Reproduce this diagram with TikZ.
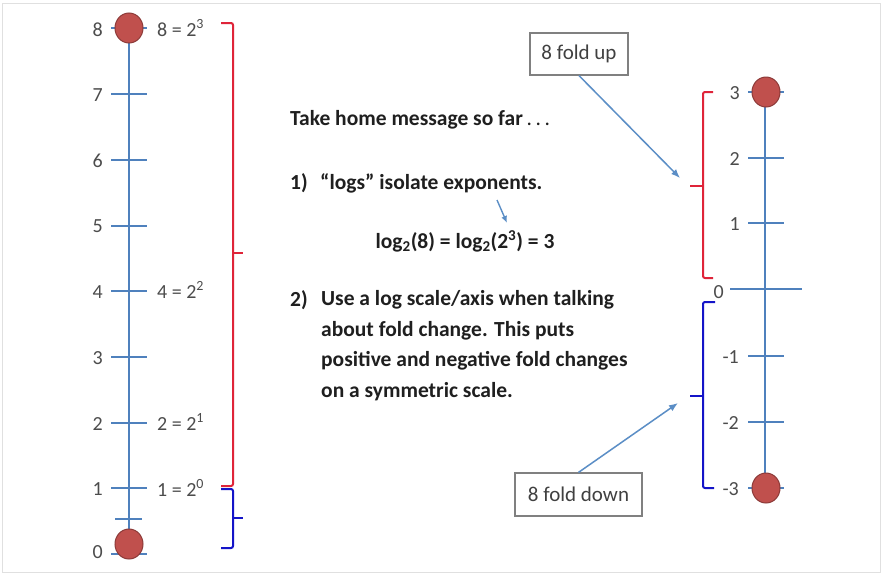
\documentclass[tikz,border=0pt]{standalone}
\usepackage{fontspec}
\setmainfont{Carlito}
\usetikzlibrary{arrows.meta,positioning,shapes.geometric}
\definecolor{axisBlue}{HTML}{4F81BD}
\definecolor{dotRed}{HTML}{C0504D}
\definecolor{dotEdge}{HTML}{8C3A38}
\definecolor{braceRed}{HTML}{DF2439}
\definecolor{braceBlue}{HTML}{1414C8}
\definecolor{pointerBlue}{HTML}{5B8EC6}
\colorlet{labelGray}{black!70}
\colorlet{msgGray}{black!88}
\tikzset{
  >=Latex,
  axisline/.style={draw=axisBlue, line width=1.8pt},
  enddot/.style={
    ellipse,
    fill=dotRed,
    draw=dotEdge,
    line width=1pt,
    minimum width=28pt,
    minimum height=30pt,
    inner sep=0pt
  },
  numlab/.style={
    font=\fontsize{20}{24}\selectfont,
    text=labelGray,
    inner sep=0pt,
    anchor=base east
  },
  powlab/.style={
    font=\fontsize{20}{24}\selectfont,
    text=labelGray,
    inner sep=0pt,
    anchor=base west
  },
  msg/.style={
    font=\fontsize{21.5}{30.5}\selectfont\bfseries,
    text=msgGray,
    inner sep=0pt,
    anchor=base west
  },
  callout/.style={
    draw=black!50,
    fill=white,
    line width=1.2pt,
    inner sep=0pt,
    font=\fontsize{21}{24}\selectfont,
    text=black!75
  },
  brace/.style={line width=2pt, rounded corners=2pt},
  pointer/.style={
    -{Latex[length=9pt,width=7pt]},
    line width=1.5pt,
    draw=pointerBlue
  }
}
\begin{document}
\begin{tikzpicture}[x=1pt,y=-1pt]
\useasboundingbox (0,0) rectangle (883,576);
\fill[white] (0,0) rectangle (883,576);
\draw[black!12, line width=1pt] (2,3) rectangle (880,572);

% linear axis (left)
\draw[axisline] (129,28) -- (129,544);
\draw[axisline] (111,28) -- (147,28) (111,94) -- (147,94)
  (111,160) -- (147,160) (111,226) -- (147,226)
  (111,291) -- (147,291) (111,357) -- (147,357)
  (111,423) -- (147,423) (111,488) -- (147,488)
  (115,519) -- (142,519) (111,554) -- (147,554);
\node[enddot] (linTop) at (129,28) {};
\node[enddot] (linBot) at (129,544) {};

\node[numlab] (l8) at (103,36) {8};
\node[numlab] (l7) at (103,101) {7};
\node[numlab] (l6) at (103,167) {6};
\node[numlab] (l5) at (103,232) {5};
\node[numlab] (l4) at (103,298) {4};
\node[numlab] (l3) at (103,364) {3};
\node[numlab] (l2) at (103,430) {2};
\node[numlab] (l1) at (103,495) {1};
\node[numlab] (l0) at (103,558) {0};

\node[powlab] (p8) at (157,36) {8 = 2\textsuperscript{3}};
\node[powlab] (p4) at (157,298) {4 = 2\textsuperscript{2}};
\node[powlab] (p2) at (157,430) {2 = 2\textsuperscript{1}};
\node[powlab] (p1) at (157,496) {1 = 2\textsuperscript{0}};

\draw[brace, braceRed] (221,23) -- (233,23) -- (233,486) -- (221,486);
\draw[brace, braceRed] (233,253) -- (243,253);
\draw[brace, braceBlue] (221,489) -- (233,489) -- (233,548) -- (221,548);
\draw[brace, braceBlue] (233,518) -- (243,518);

% message
\node[msg] (take) at (290,125) {Take home message so far{\mdseries\,.\,.\,.}};
\node[msg] (n1) at (290,189) {1)};
\node[msg] (item1) at (320,189) {“logs” isolate exponents.};
\node[msg, anchor=base] (logeq) at (465,248)
  {log\textsubscript{2}(8) = log\textsubscript{2}(2\textsuperscript{3}) = 3};
\node[msg] (n2) at (290,306) {2)};
% multi-line node: base is the last line
\node[msg, align=left] (item2) at (321,397)
  {Use a log scale/axis when talking\\
   about fold change. This puts\\
   positive and negative fold changes\\
   on a symmetric scale.};
\coordinate (expFrom) at (497,200);
\coordinate (expTo) at (507,223);
\draw[pointer, -{Latex[length=7pt,width=6pt]}, line width=1.4pt] (expFrom) -- (expTo);

% log axis (right)
\draw[axisline] (765,92) -- (765,488);
\draw[axisline] (748,92) -- (784,92) (748,158) -- (784,158)
  (748,223) -- (784,223) (730,289) -- (802,289)
  (748,356) -- (784,356) (748,422) -- (784,422)
  (748,488) -- (784,488);
\node[enddot] (logTop) at (766,92) {};
\node[enddot] (logBot) at (766,488) {};

\node[numlab] (r3) at (740,99) {3};
\node[numlab] (r2) at (740,165) {2};
\node[numlab] (r1) at (740,230) {1};
\node[numlab] (r0) at (724,298) {0};
\node[numlab] (rm1) at (739,363) {-1};
\node[numlab] (rm2) at (739,429) {-2};
\node[numlab] (rm3) at (739,495) {-3};

\draw[brace, braceRed] (713,92) -- (703,92) -- (703,278) -- (713,278);
\draw[brace, braceRed] (703,186) -- (690,186);
\draw[brace, braceBlue] (715,302) -- (703,302) -- (703,488) -- (714,488);
\draw[brace, braceBlue] (703,396) -- (690,396);

\node[callout, minimum width=98pt, minimum height=42pt] (up) at (579,54) {8 fold up};
\node[callout, minimum width=127pt, minimum height=43pt] (down) at (578.5,494.5) {8 fold down};
\coordinate (upTip) at (680,178);
\coordinate (downTip) at (678,403);
\draw[pointer] (up.south) -- (upTip);
\draw[pointer] (down.north) -- (downTip);

\end{tikzpicture}
\end{document}
